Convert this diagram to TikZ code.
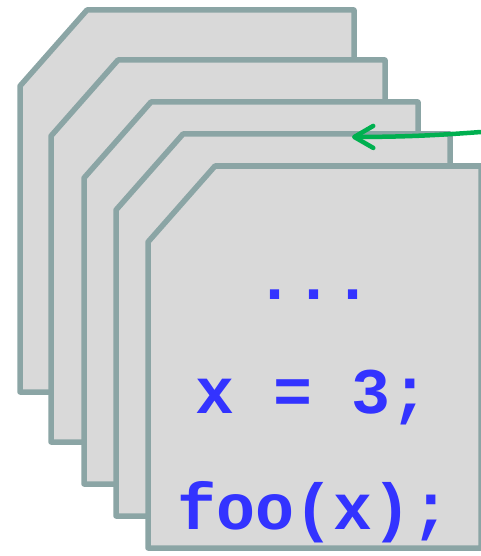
\documentclass[tikz,border=0pt]{standalone}
\usepackage{fontspec}
\setmonofont{Liberation Mono}
\usepackage{tikz}
\definecolor{cardgray}{RGB}{217,217,217}
\definecolor{cardedge}{RGB}{139,165,165}
\definecolor{codeblue}{RGB}{51,51,255}
\definecolor{pcgreen}{RGB}{0,176,80}
\usetikzlibrary{arrows.meta,positioning}

\begin{document}
\begin{tikzpicture}[x=1pt,y=-1pt,line join=round,
  frame/.style={fill=cardgray,draw=cardedge,line width=5.5pt},
  code/.style={anchor=base,inner sep=0pt,text=codeblue,font=\fontsize{65}{65}\selectfont\ttfamily\bfseries}]
  \useasboundingbox (0,0) rectangle (481,556);
  % Stack of frames
  \path[frame] (20,86) -- ++(67,-76) -- ++(267,0) -- ++(0,382) -- ++(-334,0) -- cycle;
  \path[frame] (51,136) -- ++(67,-76) -- ++(267,0) -- ++(0,382) -- ++(-334,0) -- cycle;
  \path[frame] (84,178) -- ++(67,-76) -- ++(267,0) -- ++(0,382) -- ++(-334,0) -- cycle;
  \path[frame] (116,210) -- ++(67,-76) -- ++(267,0) -- ++(0,382) -- ++(-334,0) -- cycle;
  \path[frame] (148,242) -- ++(67,-76) -- ++(266,0) -- ++(0,382) -- ++(-333,0) -- cycle;

  % Code on the top frame
  \node[code] (dots) at (314,299) {...};
  \node[code] (assign) at (313,413) {x = 3;};
  \node[code] (call) at (314,529) {foo(x);};

  % Pointer
  \coordinate (pcstart) at (481,132);
  \coordinate (pctip) at (352,137);
  \draw[pcgreen,line width=4.5pt,line cap=round,-{Straight Barb[round,length=19pt,width=22pt]}] (pcstart) to[bend left=2] (pctip);
\end{tikzpicture}
\end{document}
